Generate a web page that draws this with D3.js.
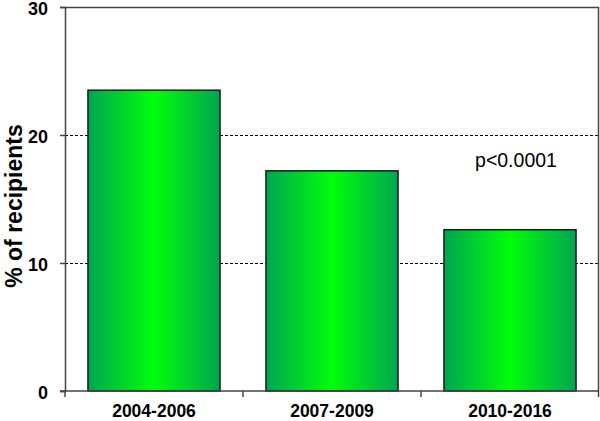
<!DOCTYPE html>
<html>
<head>
<meta charset="utf-8">
<script src="https://cdn.jsdelivr.net/npm/d3@7"></script>
<style>
  body { margin: 0; background: #fff; }
  svg { display: block; font-family: Arial, "Liberation Sans", sans-serif; }
</style>
</head>
<body>
<svg id="chart" width="600" height="421"></svg>
<script>
// data
var categories = ['2004-2006', '2007-2009', '2010-2016'];
var values = [23.5, 17.2, 12.6];
var yTicks = [0, 10, 20, 30];
var gridTicks = [10, 20];
var note = 'p<0.0001';

var width = 600,
    height = 421;
var margin = { top: 7, right: 1, bottom: 30, left: 65 };

var svg = d3.select('#chart');

var x = d3.scaleBand()
    .domain(categories)
    .range([margin.left, width - margin.right])
    .paddingInner(0.258)
    .paddingOuter(0.129);

var y = d3.scaleLinear()
    .domain([0, 30])
    .range([height - margin.bottom, margin.top]);

// horizontal gradient, dark at the edges, bright in the middle
var grad = svg.append('defs').append('linearGradient')
    .attr('id', 'barGrad')
    .attr('x1', '0%').attr('x2', '100%')
    .attr('y1', '0%').attr('y2', '0%');
grad.append('stop').attr('offset', '0%').attr('stop-color', '#00a550');
grad.append('stop').attr('offset', '50%').attr('stop-color', '#00ff0a');
grad.append('stop').attr('offset', '100%').attr('stop-color', '#00a550');

// dashed grid lines
svg.append('g')
    .selectAll('line')
    .data(gridTicks)
    .join('line')
    .attr('x1', margin.left)
    .attr('x2', width - margin.right)
    .attr('y1', d => y(d) + 0.5)
    .attr('y2', d => y(d) + 0.5)
    .attr('stroke', '#000')
    .attr('stroke-width', 1)
    .attr('stroke-dasharray', '3,2');

// frame (top and right)
svg.append('path')
    .attr('d', 'M' + margin.left + ',' + (y(30) + 0.5) + 'H' + (width - margin.right - 0.5) + 'V' + y(0))
    .attr('fill', 'none')
    .attr('stroke', '#444')
    .attr('stroke-width', 1.5);

// bars
svg.append('g')
    .selectAll('rect')
    .data(values)
    .join('rect')
    .attr('x', (d, i) => x(categories[i]))
    .attr('y', d => y(d))
    .attr('width', x.bandwidth())
    .attr('height', d => y(0) - y(d))
    .attr('fill', 'url(#barGrad)')
    .attr('stroke', '#1a1a1a')
    .attr('stroke-width', 1.5);

// y axis
var yAxis = svg.append('g')
    .attr('transform', 'translate(' + margin.left + ',0)')
    .call(d3.axisLeft(y).tickValues(yTicks).tickSize(5).tickPadding(12).tickFormat(d3.format('d')));
yAxis.select('.domain').attr('stroke', '#444').attr('stroke-width', 1.5);
yAxis.selectAll('.tick line').attr('stroke', '#444').attr('stroke-width', 1.5);
yAxis.selectAll('text')
    .attr('fill', '#000')
    .style('font-size', '18px')
    .style('font-weight', 'bold')
    .attr('dy', '0.4em');

// x axis: labels at band centres, ticks at band boundaries
var xAxis = svg.append('g')
    .attr('transform', 'translate(0,' + y(0) + ')')
    .call(d3.axisBottom(x).tickSize(0).tickPadding(0));
xAxis.select('.domain').remove();
xAxis.selectAll('text')
    .attr('fill', '#000')
    .attr('y', 26)
    .attr('dy', 0)
    .style('font-size', '17.5px')
    .style('font-weight', 'bold');

var bounds = categories.map(c => x(c) - x.step() * x.paddingOuter());
bounds.push(width - margin.right);
svg.append('line')
    .attr('x1', margin.left - 5)
    .attr('x2', width - margin.right)
    .attr('y1', y(0))
    .attr('y2', y(0))
    .attr('stroke', '#444')
    .attr('stroke-width', 1.5);
svg.append('g')
    .selectAll('line')
    .data(bounds)
    .join('line')
    .attr('x1', d => Math.min(d, width - 1.5))
    .attr('x2', d => Math.min(d, width - 1.5))
    .attr('y1', y(0))
    .attr('y2', y(0) + 6)
    .attr('stroke', '#444')
    .attr('stroke-width', 1.5);

// y title
svg.append('text')
    .attr('transform', 'translate(22,' + ((y(0) + y(30)) / 2 + 7) + ') rotate(-90)')
    .attr('text-anchor', 'middle')
    .style('font-size', '23px')
    .style('font-weight', 'bold')
    .text('% of recipients');

// significance note
svg.append('text')
    .attr('x', 516)
    .attr('y', 167)
    .attr('text-anchor', 'middle')
    .style('font-size', '19.5px')
    .text(note);
</script>
</body>
</html>
